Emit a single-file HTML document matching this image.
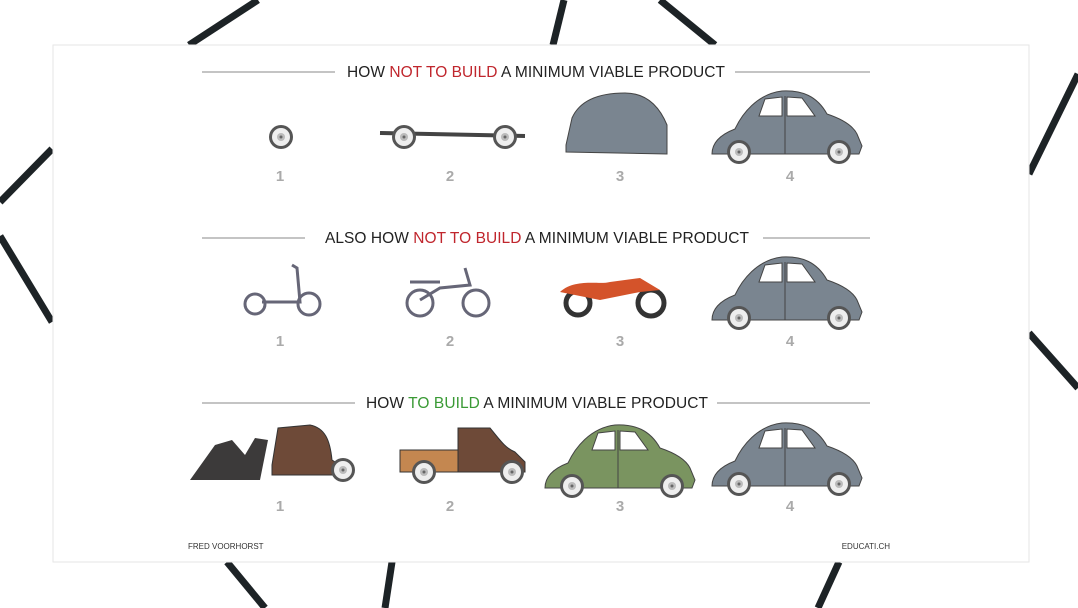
<!DOCTYPE html>
<html><head><meta charset="utf-8"><style>
html,body{margin:0;padding:0;background:#fff;}
svg{display:block;font-family:"Liberation Sans",sans-serif;}
</style></head><body>
<svg width="1078" height="608" viewBox="0 0 1078 608">
<defs>
<g id="wheel"><circle r="12" fill="#555"/><circle r="9" fill="#eee"/><circle r="4" fill="#bbb"/><circle r="1.5" fill="#666"/></g>
<g id="car">
<path d="M-75,30 C-75,18 -65,10 -52,5 C-45,-10 -30,-30 -5,-33 C15,-34 30,-28 40,-10 C52,-6 65,0 70,10 L75,22 L72,30 Z" fill="currentColor" stroke="#444" stroke-width="1"/>
<path d="M-28,-8 L-22,-25 L-5,-27 L-5,-8 Z M0,-8 L0,-27 L15,-26 L28,-8 Z" fill="#fff" stroke="#444"/>
<line x1="-2" y1="-28" x2="-2" y2="30" stroke="#444"/>
<use href="#wheel" x="-48" y="28"/><use href="#wheel" x="52" y="28"/>
</g>
</defs>
<g stroke="#1d2326" stroke-width="7" fill="none">
<line x1="258" y1="0" x2="189" y2="45"/>
<line x1="52" y1="149" x2="0" y2="202"/>
<line x1="0" y1="236" x2="52" y2="322"/>
<line x1="564" y1="0" x2="553" y2="45"/>
<line x1="660" y1="0" x2="715" y2="45"/>
<line x1="1078" y1="74" x2="1029" y2="174"/>
<line x1="1029" y1="333" x2="1078" y2="388"/>
<line x1="227" y1="562" x2="265" y2="608"/>
<line x1="392" y1="562" x2="385" y2="608"/>
<line x1="839" y1="562" x2="818" y2="608"/>
</g>
<rect x="53" y="45" width="976" height="517" fill="#fff" stroke="#e6e6e6"/>

<g>
<line x1="202" y1="72" x2="335" y2="72" stroke="#888"/><line x1="735" y1="72" x2="870" y2="72" stroke="#888"/>
<text x="536" y="77" font-size="15.5" text-anchor="middle" fill="#222" textLength="378">HOW <tspan fill="#c0262d">NOT TO BUILD</tspan> A MINIMUM VIABLE PRODUCT</text>
<use href="#wheel" x="281" y="137"/>
<g><line x1="380" y1="133" x2="525" y2="136" stroke="#444" stroke-width="4"/><use href="#wheel" x="404" y="137"/><use href="#wheel" x="505" y="137"/></g>
<path d="M566,145 L572,118 C580,100 600,93 625,93 C648,93 660,108 667,125 L667,154 L566,152 Z" fill="#7a8590" stroke="#444"/>
<g color="#7a8590" transform="translate(787,124)"><use href="#car"/></g>
</g>

<g>
<line x1="202" y1="238" x2="305" y2="238" stroke="#888"/><line x1="763" y1="238" x2="870" y2="238" stroke="#888"/>
<text x="537" y="243" font-size="15.5" text-anchor="middle" fill="#222" textLength="424">ALSO HOW <tspan fill="#c0262d">NOT TO BUILD</tspan> A MINIMUM VIABLE PRODUCT</text>
<g fill="none" stroke="#667" stroke-width="3"><circle cx="255" cy="304" r="10"/><circle cx="309" cy="304" r="11"/><path d="M262,302 L300,302 L297,268 L292,265"/></g>
<g fill="none" stroke="#667" stroke-width="3"><circle cx="420" cy="303" r="13"/><circle cx="476" cy="303" r="13"/><path d="M420,300 L440,288 L470,285 L465,268 M410,282 L440,282"/></g>
<g><circle cx="578" cy="303" r="12" fill="none" stroke="#333" stroke-width="5"/><circle cx="651" cy="303" r="13" fill="none" stroke="#333" stroke-width="5"/><path d="M560,292 C575,278 600,285 610,282 L640,278 L660,290 L640,292 L600,300 Z" fill="#d4532a"/></g>
<g color="#7a8590" transform="translate(787,290)"><use href="#car"/></g>
</g>

<g>
<line x1="202" y1="403" x2="355" y2="403" stroke="#888"/><line x1="717" y1="403" x2="870" y2="403" stroke="#888"/>
<text x="537" y="408" font-size="15.5" text-anchor="middle" fill="#222" textLength="342">HOW <tspan fill="#3a9a35">TO BUILD</tspan> A MINIMUM VIABLE PRODUCT</text>
<g><path d="M190,480 L215,445 L232,440 L245,455 L255,438 L268,440 L260,480 Z" fill="#3c3a3a"/><path d="M272,465 L278,428 L310,425 C325,428 330,440 332,460 L340,465 L340,475 L272,475 Z" fill="#6e4a38" stroke="#333"/><use href="#wheel" x="343" y="470"/></g>
<g><rect x="400" y="450" width="58" height="22" fill="#c48750" stroke="#333"/><path d="M458,472 L458,428 L490,428 C500,440 505,448 515,452 L525,462 L525,472 Z" fill="#6e4a38" stroke="#333"/><use href="#wheel" x="424" y="472"/><use href="#wheel" x="512" y="472"/></g>
<g color="#7a9460" transform="translate(620,458)"><use href="#car"/></g>
<g color="#7a8590" transform="translate(787,456)"><use href="#car"/></g>
</g>

<g font-size="15" font-weight="bold" fill="#aaa" text-anchor="middle">
<text x="280" y="181">1</text><text x="450" y="181">2</text><text x="620" y="181">3</text><text x="790" y="181">4</text>
<text x="280" y="346">1</text><text x="450" y="346">2</text><text x="620" y="346">3</text><text x="790" y="346">4</text>
<text x="280" y="511">1</text><text x="450" y="511">2</text><text x="620" y="511">3</text><text x="790" y="511">4</text>
</g>
<text x="188" y="549" font-size="8" fill="#333">FRED VOORHORST</text>
<text x="890" y="549" font-size="8" fill="#333" text-anchor="end">EDUCATI.CH</text>
</svg>
</body></html>
